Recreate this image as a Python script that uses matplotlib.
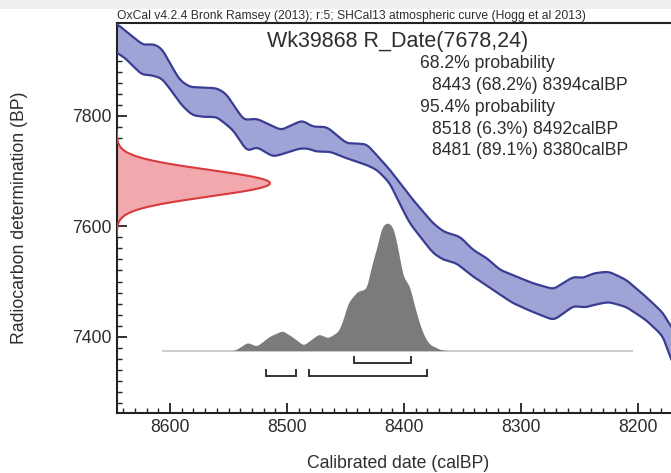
import numpy as np
import matplotlib
matplotlib.use("Agg")
import matplotlib.pyplot as plt
from matplotlib.ticker import MultipleLocator
from matplotlib.patches import Rectangle

plt.rcParams['font.family'] = ['Liberation Sans', 'DejaVu Sans']

# ---- calibration curve band (SHCal13), upper and lower 1-sigma edges ----
cal_upper = [8660, 8644, 8623, 8614, 8607, 8592, 8583, 8560, 8552, 8537, 8526,
             8505, 8487, 8478, 8466, 8449, 8432, 8412, 8392, 8375, 8366, 8352,
             8341, 8329, 8318, 8304, 8290, 8272, 8264, 8255, 8247, 8238, 8225,
             8210, 8193, 8178, 8172, 8150]
bp_upper = [7985, 7964, 7928, 7930, 7922, 7865, 7852, 7850, 7840, 7792, 7795,
            7774, 7792, 7780, 7780, 7750, 7749, 7702, 7647, 7605, 7590, 7581,
            7557, 7542, 7521, 7509, 7497, 7486, 7497, 7509, 7506, 7515, 7518,
            7503, 7472, 7442, 7418, 7370]

cal_lower = [8660, 8644, 8638, 8624, 8617, 8607, 8598, 8590, 8581, 8571, 8560,
             8546, 8534, 8526, 8512, 8502, 8489, 8482, 8475, 8463, 8449, 8432,
             8423, 8412, 8403, 8395, 8375, 8366, 8355, 8341, 8324, 8307, 8290,
             8272, 8264, 8255, 8245, 8235, 8225, 8210, 8193, 8178, 8172, 8150]
bp_lower = [7935, 7912, 7904, 7874, 7874, 7868, 7843, 7819, 7801, 7798, 7798,
            7774, 7735, 7744, 7726, 7732, 7741, 7741, 7735, 7735, 7723, 7711,
            7702, 7678, 7638, 7605, 7551, 7539, 7533, 7509, 7485, 7461, 7445,
            7430, 7442, 7456, 7453, 7459, 7463, 7454, 7430, 7400, 7358, 7290]

# ---- radiocarbon measurement ----
r_mean, r_sigma = 7678, 24

# ---- calibrated probability distribution (relative) ----
post_cal = [8545, 8539, 8534, 8526, 8515, 8504, 8496, 8486, 8473, 8465, 8456,
            8452, 8448, 8440, 8432, 8428, 8423, 8419, 8415, 8412, 8409, 8405,
            8401, 8395, 8391, 8386, 8382, 8378, 8369, 8363]
post_prob = [0.0, 0.034, 0.065, 0.034, 0.111, 0.156, 0.111, 0.041, 0.130, 0.099,
             0.150, 0.242, 0.372, 0.462, 0.481, 0.655, 0.813, 0.969, 1.0, 0.99,
             0.956, 0.787, 0.579, 0.501, 0.345, 0.189, 0.099, 0.047, 0.008, 0.0]
plot_range = [8606, 8205]

# ---- highest probability density ranges ----
hpd68 = [(8443, 8394, 68.2)]
hpd95 = [(8518, 8492, 6.3), (8481, 8380, 89.1)]

title = "Wk39868 R_Date(7678,24)"
credit = ("OxCal v4.2.4 Bronk Ramsey (2013); r:5; "
          "SHCal13 atmospheric curve (Hogg et al 2013)")
x_ticks = [8600, 8500, 8400, 8300, 8200]
y_ticks = [7400, 7600, 7800]

W, H = 671, 473
TXT = '#2e2e2e'


def px(x, y):
    return x / W, 1 - y / H


def smooth_curve(xs, ys, grid, sigma):
    """Linear interpolation onto a regular grid followed by a Gaussian blur."""
    xs = np.asarray(xs, float)
    ys = np.asarray(ys, float)
    order = np.argsort(xs)
    y = np.interp(grid, xs[order], ys[order])
    step = grid[1] - grid[0]
    k = np.arange(-int(4 * sigma / step), int(4 * sigma / step) + 1) * step
    kern = np.exp(-0.5 * (k / sigma) ** 2)
    kern /= kern.sum()
    n = len(kern) // 2
    padded = np.concatenate([np.full(n, y[0]), y, np.full(n, y[-1])])
    return np.convolve(padded, kern, mode='valid')


fig = plt.figure(figsize=(W / 100, H / 100), dpi=100)
fig.patch.set_facecolor('white')
fig.patches.append(Rectangle((0, 1 - 9 / H), 1, 9 / H, transform=fig.transFigure,
                             facecolor='#efefef', edgecolor='none', zorder=0))

ax = fig.add_axes([116.7 / W, 60 / H, (696.5 - 116.7) / W, 390 / H])
XMAX, XMIN = 8645.6, 8150
ax.set_xlim(XMAX, XMIN)
ax.set_ylim(7262, 7968)

# calibration band
cal_grid = np.linspace(XMIN, 8660, 1021)
up = smooth_curve(cal_upper, bp_upper, cal_grid, 2.5)
lo = smooth_curve(cal_lower, bp_lower, cal_grid, 2.5)
ax.fill_between(cal_grid, lo, up, color='#a0a3d6', lw=0, zorder=2)
ax.plot(cal_grid, up, color='#3a3d92', lw=1.6, zorder=3)
ax.plot(cal_grid, lo, color='#3a3d92', lw=1.6, zorder=3)

# radiocarbon date on the y axis
yy = np.linspace(r_mean - 4 * r_sigma, r_mean + 4 * r_sigma, 300)
g = np.exp(-0.5 * ((yy - r_mean) / r_sigma) ** 2)
red_w = 131
ax.fill_betweenx(yy, XMAX, XMAX - red_w * g, color='#f2a9ad', lw=0, zorder=2)
ax.plot(XMAX - red_w * g, yy, color='#d93a3e', lw=1.5, zorder=3)

# calibrated distribution
base = 7375
scale = 232
ax.plot(plot_range, [base, base], color='#cfcfcf', lw=1.5, zorder=2)
post_grid = np.linspace(min(post_cal) - 5, max(post_cal) + 5, 401)
prob = np.clip(smooth_curve(post_cal, post_prob, post_grid, 1.5), 0, None)
ax.fill_between(post_grid, base, base + scale * prob,
                color='#7b7b7b', lw=0, zorder=3)

# range brackets
def bracket(a, b, y):
    h = 11
    ax.plot([a, a, b, b], [y + h, y, y, y + h], color='#333333', lw=1.4,
            solid_joinstyle='miter', zorder=4)

for a, b, _ in hpd68:
    bracket(a, b, 7353)
for a, b, _ in hpd95:
    bracket(a, b, 7329)

# axes styling
for s in ['left', 'bottom', 'top', 'right']:
    ax.spines[s].set_linewidth(1.5)
    ax.spines[s].set_color('#222222')
ax.set_xticks(x_ticks)
ax.set_yticks(y_ticks)
ax.xaxis.set_minor_locator(MultipleLocator(10))
ax.yaxis.set_minor_locator(MultipleLocator(20))
ax.tick_params(which='major', direction='in', length=7, width=1.3,
               color='#222222', labelsize=12.7, labelcolor=TXT, pad=4)
ax.tick_params(which='minor', direction='in', length=3.5, width=1.0,
               color='#222222')
ax.tick_params(top=False, right=False, which='both')

# text
ax.text(0, 1.002, credit, transform=ax.transAxes, ha='left', va='bottom',
        fontsize=8.7, color=TXT)
fig.text(*px(266.7, 41), title, ha='left', va='center', fontsize=15.5, color=TXT)

lines = [("68.2% probability", False)]
for a, b, p in hpd68:
    lines.append((f"{a} ({p}%) {b}calBP", True))
lines.append(("95.4% probability", False))
for a, b, p in hpd95:
    lines.append((f"{a} ({p}%) {b}calBP", True))
for i, (t, indent) in enumerate(lines):
    fig.text(*px(431.7 if indent else 420, 63.3 + 21.9 * i), t,
             ha='left', va='center', fontsize=12.7, color=TXT)

fig.text(*px(20, 218), "Radiocarbon determination (BP)", rotation=90,
         ha='center', va='center', fontsize=12.7, color=TXT)
fig.text(*px(398, 463), "Calibrated date (calBP)",
         ha='center', va='center', fontsize=12.7, color=TXT)

fig.savefig('out.png', dpi=100)
